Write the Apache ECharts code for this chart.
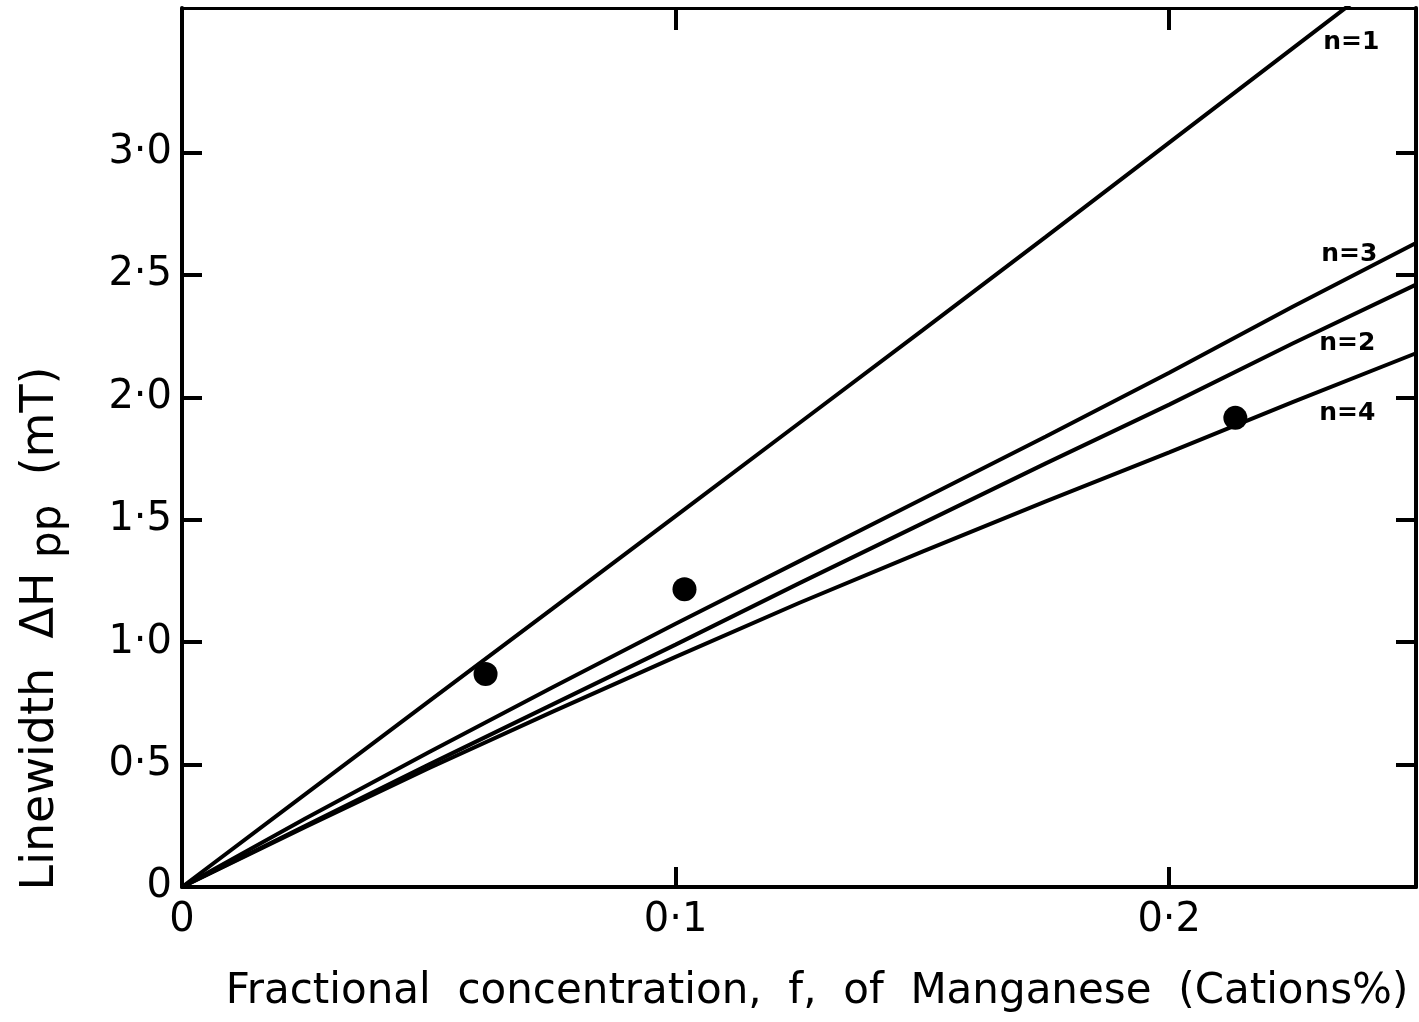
<!DOCTYPE html>
<html>
<head>
<meta charset="utf-8">
<script src="https://cdn.jsdelivr.net/npm/echarts@6/dist/echarts.min.js"></script>
<style>
  html, body { margin: 0; padding: 0; background: #fff; }
  #chart { width: 1419px; height: 1022px; }
</style>
</head>
<body>
<div id="chart"></div>
<script>
// Fractional concentration f (cation fraction) sampled along the model curves
const fGrid = [0, 0.025, 0.05, 0.075, 0.1, 0.125, 0.15, 0.175, 0.2, 0.225, 0.25];
// Calculated peak-to-peak linewidth (mT) for each model n
const widthN1 = [0, 0.379, 0.758, 1.136, 1.515, 1.894, 2.273, 2.655, 3.04, 3.425, 3.81];
const widthN3 = [0, 0.28, 0.55, 0.815, 1.075, 1.33, 1.585, 1.84, 2.1, 2.37, 2.63];
const widthN2 = [0, 0.25, 0.50, 0.745, 0.99, 1.24, 1.485, 1.73, 1.97, 2.22, 2.46];
const widthN4 = [0, 0.245, 0.485, 0.715, 0.94, 1.16, 1.37, 1.575, 1.775, 1.98, 2.18];
// Measured samples
const measuredF = [0.0615, 0.1018, 0.2134];
const measuredWidth = [0.87, 1.216, 1.916];
// Tick values
const xTickValues = [0, 0.1, 0.2];
const yTickValues = [0, 0.5, 1.0, 1.5, 2.0, 2.5, 3.0];
// Curve names and where their tags sit
const curveNames = ['n=1', 'n=3', 'n=2', 'n=4'];
const curveTagAt = [[0.2369, 3.449], [0.2365, 2.584], [0.2361, 2.22], [0.2361, 1.935]];

const FONT = 'DejaVu Sans';
const INK = '#000';

const fmt = v => (v === 0 ? '0' : v.toFixed(1).replace('.', '\u00b7'));
const pairs = ys => fGrid.map((f, i) => [f, ys[i]]);

const curves = [widthN1, widthN3, widthN2, widthN4].map((ys, k) => ({
  type: 'line',
  name: curveNames[k],
  data: pairs(ys),
  showSymbol: false,
  silent: true,
  clip: true,
  lineStyle: { color: INK, width: 4 },
  markPoint: {
    symbol: 'circle',
    symbolSize: 0,
    silent: true,
    label: {
      show: true,
      formatter: curveNames[k],
      color: INK,
      fontFamily: FONT,
      fontWeight: 'bold',
      fontSize: 25
    },
    data: [{ coord: curveTagAt[k] }]
  }
}));

const tickStyle = { color: INK, width: 4 };

const chart = echarts.init(document.getElementById('chart'), null, { renderer: 'canvas' });

chart.setOption({
  backgroundColor: '#fff',
  animation: false,
  grid: {
    left: 182, right: 3, top: 8, bottom: 135,
    containLabel: false,
    outerBoundsMode: 'none'
  },
  xAxis: [
    {
      type: 'value', min: 0, max: 0.25, interval: 0.1,
      position: 'bottom',
      axisLine: { show: true, onZero: false, lineStyle: { color: INK, width: 4 } },
      axisTick: { show: true, inside: true, length: 20, lineStyle: tickStyle, customValues: xTickValues.slice(1) },
      axisLabel: {
        show: true, customValues: xTickValues, formatter: fmt,
        color: INK, fontFamily: FONT, fontSize: 40, margin: 14
      },
      splitLine: { show: false },
      name: 'Fractional  concentration,  f,  of  Manganese  (Cations%)',
      nameLocation: 'middle',
      nameGap: 84,
      nameTextStyle: { color: INK, fontFamily: FONT, fontSize: 42, padding: [0, 0, 0, 36] }
    },
    {
      type: 'value', min: 0, max: 0.25, interval: 0.1,
      position: 'top',
      axisLine: { show: true, onZero: false, lineStyle: { color: INK, width: 3 } },
      axisTick: { show: true, inside: true, length: 22, lineStyle: tickStyle, customValues: [0.1, 0.2] },
      axisLabel: { show: false },
      splitLine: { show: false }
    }
  ],
  yAxis: [
    {
      type: 'value', min: 0, max: 3.59, interval: 0.5,
      position: 'left',
      axisLine: { show: true, onZero: false, lineStyle: { color: INK, width: 4 } },
      axisTick: { show: true, inside: true, length: 20, lineStyle: tickStyle, customValues: yTickValues.slice(1) },
      axisLabel: {
        show: true, customValues: yTickValues, formatter: fmt,
        color: INK, fontFamily: FONT, fontSize: 40, margin: 10,
        padding: [12, 0, 0, 0]
      },
      splitLine: { show: false },
      name: 'Linewidth  \u0394H {sub|pp}  (mT)',
      nameLocation: 'middle',
      nameRotate: 90,
      nameGap: 112,
      nameTextStyle: {
        color: INK, fontFamily: FONT, fontSize: 46, lineHeight: 58,
        padding: [0, 362, 0, 0],
        rich: {
          sub: { color: INK, fontFamily: FONT, fontSize: 42, lineHeight: 44, verticalAlign: 'bottom' }
        }
      }
    },
    {
      type: 'value', min: 0, max: 3.59, interval: 0.5,
      position: 'right',
      axisLine: { show: true, onZero: false, lineStyle: { color: INK, width: 4 } },
      axisTick: { show: true, inside: true, length: 20, lineStyle: tickStyle, customValues: yTickValues.slice(1) },
      axisLabel: { show: false },
      splitLine: { show: false }
    }
  ],
  series: curves.concat([{
    type: 'scatter',
    name: 'measured',
    data: measuredF.map((f, i) => [f, measuredWidth[i]]),
    symbol: 'circle',
    symbolSize: 24,
    silent: true,
    itemStyle: { color: INK, opacity: 1 }
  }])
});
</script>
</body>
</html>
